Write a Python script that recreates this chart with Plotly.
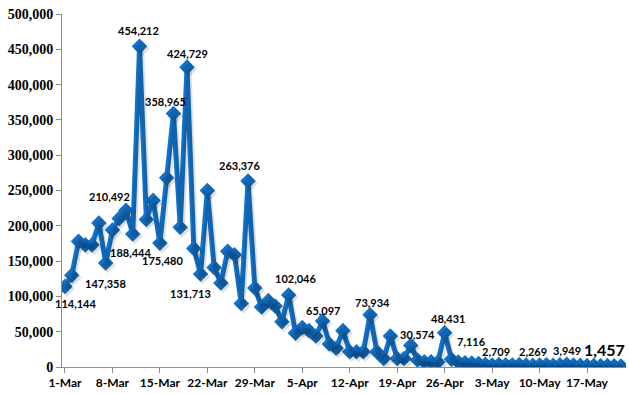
import datetime as dt
import plotly.graph_objects as go

# ---------------- data ----------------
start_date = "2020-03-01"
daily_values = [
    114144, 130000, 178000, 173000, 173000, 204000, 147358, 194000, 210492, 222000,
    188444, 454212, 209000, 236000, 175480, 268000, 358965, 198000, 424729, 168000,
    131713, 250000, 141000, 119000, 164000, 159000, 90000, 263376, 112000, 85000,
    94000, 86500, 64000, 102046, 48000, 56000, 51500, 44000, 65097, 32600,
    26500, 51500, 21700, 21700, 21700, 73934, 21700, 12000, 44000, 12000,
    12000, 30574, 10000, 7500, 7500, 7000, 48431, 11000, 7116, 6000,
    5500, 4800, 4000, 2709, 3500, 3200, 2900, 3300, 2600, 2269,
    2800, 3100, 2500, 3000, 3949, 2600, 2300, 1900, 2200, 1700,
    1900, 1600, 1457,
]
labelled_days = [0, 6, 8, 10, 11, 14, 16, 18, 20, 27, 33, 38, 45, 51, 56, 58, 63, 69, 74, 82]
y_ticks = [0, 50000, 100000, 150000, 200000, 250000, 300000, 350000, 400000, 450000, 500000]

# ---------------- layout helpers ----------------
d0 = dt.date.fromisoformat(start_date)
dates = [d0 + dt.timedelta(days=i) for i in range(len(daily_values))]
tick_dates = dates[::7]

# pixel offsets of each data label (xshift, yshift) relative to its point
label_offsets = {
    0: (11, -17), 6: (0, -21), 8: (-10, 22), 10: (-2, -19), 11: (-1, 16),
    14: (3, -17), 16: (-8, 12), 18: (0, 14), 20: (-10, -19), 27: (-9, 16),
    33: (7, 16), 38: (0, 11), 45: (2, 12), 51: (7, 11), 56: (3, 14),
    58: (13, 20), 63: (4, 14), 69: (0, 14), 74: (0, 14), 82: (-16, 16),
}

blue = "#1271C8"
shadow = "rgba(0,0,0,0.12)"
W, H = 629, 394
M = dict(l=62, r=3, t=14, b=27)
plot_w = W - M["l"] - M["r"]
plot_h = H - M["t"] - M["b"]

x_lo = dt.datetime.combine(dates[0], dt.time()) - dt.timedelta(hours=10.5)
x_hi = dt.datetime.combine(dates[-1], dt.time()) + dt.timedelta(hours=18)
y_lo, y_hi = 0, 500000

# drop shadow: same data drawn on a hidden axis pair whose ranges are nudged
shadow_dx_px, shadow_dy_px = 2, 2.5
dx_t = (x_hi - x_lo) * (shadow_dx_px / plot_w)
dy_v = (y_hi - y_lo) * (shadow_dy_px / plot_h)

fig = go.Figure()
fig.add_trace(go.Scatter(
    x=dates, y=daily_values, mode="lines+markers",
    line=dict(color=shadow, width=5),
    marker=dict(symbol="diamond", size=12, color=shadow),
    xaxis="x2", yaxis="y2", hoverinfo="skip", showlegend=False,
))
fig.add_trace(go.Scatter(
    x=dates, y=daily_values, mode="lines+markers",
    line=dict(color=blue, width=5),
    marker=dict(symbol="diamond", size=12, color=blue),
    hoverinfo="x+y", showlegend=False,
))

for i in labelled_days:
    dx, dy = label_offsets[i]
    big = i == len(daily_values) - 1
    fig.add_annotation(
        x=dates[i], y=daily_values[i], text=f"{daily_values[i]:,}",
        showarrow=False, xshift=dx, yshift=dy,
        font=dict(family="Lato", size=16 if big else 11, color="black", weight="bold"),
    )

fig.update_layout(
    width=W, height=H,
    margin=M,
    paper_bgcolor="white", plot_bgcolor="white",
    xaxis=dict(
        type="date", range=[x_lo, x_hi],
        tickvals=tick_dates, tickformat="%-d-%b",
        showgrid=False, zeroline=False,
        showline=True, linecolor="#8c8c8c", linewidth=1,
        ticks="outside", ticklen=5, tickcolor="#8c8c8c",
        tickfont=dict(family="Lato", size=12, color="black", weight="bold"),
    ),
    yaxis=dict(
        range=[y_lo, y_hi], tickvals=y_ticks, tickformat=",d",
        showgrid=False, zeroline=False,
        showline=True, linecolor="#8c8c8c", linewidth=1,
        ticks="outside", ticklen=5, tickcolor="#8c8c8c",
        tickfont=dict(family="Times New Roman, Liberation Serif, serif", size=14,
                      color="black", weight="bold"),
    ),
    xaxis2=dict(type="date", range=[x_lo - dx_t, x_hi - dx_t], overlaying="x",
                visible=False),
    yaxis2=dict(range=[y_lo + dy_v, y_hi + dy_v], overlaying="y", visible=False),
)

fig.write_html(
    "out.html",
    config={"displayModeBar": False},
    post_script="document.body.style.margin='0';document.body.style.overflow='hidden';",
)
